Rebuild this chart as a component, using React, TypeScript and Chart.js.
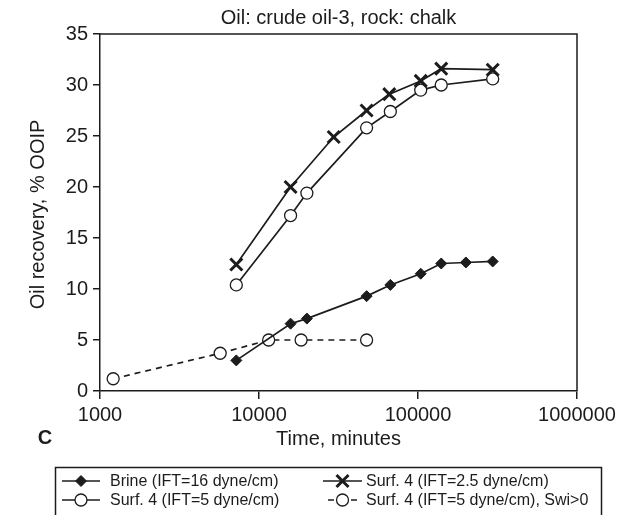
import React, { useEffect, useRef } from "react";
import { Chart, registerables } from "chart.js";
import { drawPoint } from "chart.js/helpers";

Chart.register(...registerables);

// Brine (IFT=16 dyne/cm)
const brineTime = [7200, 15800, 20000, 47500, 67000, 104000, 140000, 200000, 295000];
const brineRecovery = [3.0, 6.6, 7.1, 9.3, 10.4, 11.5, 12.5, 12.6, 12.7];

// Surf. 4 (IFT=2.5 dyne/cm)
const surfLowTime = [7200, 15800, 29500, 47500, 66000, 104000, 140000, 295000];
const surfLowRecovery = [12.4, 20.0, 24.9, 27.5, 29.1, 30.4, 31.6, 31.5];

// Surf. 4 (IFT=5 dyne/cm)
const surfTime = [7200, 15800, 20000, 47500, 67000, 104000, 140000, 295000];
const surfRecovery = [10.4, 17.2, 19.4, 25.8, 27.4, 29.5, 30.0, 30.6];

// Surf. 4 (IFT=5 dyne/cm), Swi>0
const swiTime = [1210, 5700, 11500, 18400, 47500];
const swiRecovery = [1.2, 3.7, 5.0, 5.0, 5.0];

const seriesLabels = [
  "Brine (IFT=16 dyne/cm)",
  "Surf. 4 (IFT=2.5 dyne/cm)",
  "Surf. 4 (IFT=5 dyne/cm)",
  "Surf. 4 (IFT=5 dyne/cm), Swi>0",
];

const xTicks = [1000, 10000, 100000, 1000000];
const yTicks = [0, 5, 10, 15, 20, 25, 30, 35];

const chartTitle = "Oil: crude oil-3, rock: chalk";
const xTitle = "Time, minutes";
const yTitle = "Oil recovery, % OOIP";
const panelLetter = "C";

const FONT = '"Liberation Sans", Arial, Helvetica, sans-serif';
const INK = "#1c1c1c";

const pts = (xs: number[], ys: number[]) => xs.map((x, i) => ({ x, y: ys[i] }));

// frame, titles, panel letter and the boxed legend
const decorations = {
  id: "decorations",
  afterDraw(chart: any) {
    const { ctx, chartArea: a } = chart;
    ctx.save();
    ctx.strokeStyle = INK;
    ctx.lineWidth = 1.5;
    ctx.beginPath();
    ctx.moveTo(a.left, a.top);
    ctx.lineTo(a.right, a.top);
    ctx.lineTo(a.right, a.bottom);
    ctx.stroke();

    ctx.fillStyle = INK;
    ctx.textAlign = "center";
    ctx.textBaseline = "middle";
    ctx.font = `20px ${FONT}`;
    const cx = (a.left + a.right) / 2;
    ctx.fillText(chartTitle, cx, 18);
    ctx.fillText(xTitle, cx, 439);

    ctx.save();
    ctx.translate(38, (a.top + a.bottom) / 2 + 2);
    ctx.rotate(-Math.PI / 2);
    ctx.fillText(yTitle, 0, 0);
    ctx.restore();

    ctx.font = `bold 20px ${FONT}`;
    ctx.fillText(panelLetter, 45, 438);

    // legend box (open at the bottom edge of the canvas)
    ctx.lineWidth = 1.5;
    ctx.strokeRect(55.5, 467.5, 546, 60);

    const slots = [
      { x0: 62, x1: 100, tx: 110, y: 481 },
      { x0: 323, x1: 362, tx: 366, y: 481 },
      { x0: 62, x1: 100, tx: 110, y: 500 },
      { x0: 323, x1: 362, tx: 366, y: 500 },
    ];
    ctx.font = `16px ${FONT}`;
    ctx.textAlign = "left";
    chart.data.datasets.forEach((ds: any, i: number) => {
      const s = slots[i];
      ctx.strokeStyle = ds.borderColor;
      ctx.lineWidth = ds.borderWidth;
      ctx.beginPath();
      if (ds.borderDash) {
        ctx.moveTo(s.x0 + 5, s.y);
        ctx.lineTo(s.x0 + 11, s.y);
        ctx.moveTo(s.x1 - 11, s.y);
        ctx.lineTo(s.x1 - 5, s.y);
      } else {
        ctx.moveTo(s.x0, s.y);
        ctx.lineTo(s.x1, s.y);
      }
      ctx.stroke();
      ctx.fillStyle = ds.pointBackgroundColor;
      ctx.strokeStyle = ds.pointBorderColor;
      ctx.lineWidth = ds.pointBorderWidth;
      drawPoint(
        ctx,
        { pointStyle: ds.pointStyle, radius: ds.pointRadius, rotation: 0, borderWidth: ds.pointBorderWidth },
        (s.x0 + s.x1) / 2,
        s.y
      );
      ctx.fillStyle = INK;
      ctx.fillText(seriesLabels[i], s.tx, s.y + 1);
    });
    ctx.restore();
  },
};

export default function App() {
  const ref = useRef<HTMLCanvasElement>(null);

  useEffect(() => {
    if (!ref.current) return;
    const line = { borderColor: INK, borderWidth: 1.7, showLine: true, fill: false, tension: 0 };
    const chart = new Chart(ref.current, {
      type: "scatter",
      data: {
        datasets: [
          {
            ...line,
            label: seriesLabels[0],
            data: pts(brineTime, brineRecovery),
            pointStyle: "rectRot",
            pointRadius: 5.5,
            pointBackgroundColor: INK,
            pointBorderColor: INK,
            pointBorderWidth: 1,
          },
          {
            ...line,
            label: seriesLabels[1],
            data: pts(surfLowTime, surfLowRecovery),
            pointStyle: "crossRot",
            pointRadius: 8.5,
            pointBackgroundColor: INK,
            pointBorderColor: INK,
            pointBorderWidth: 3,
          },
          {
            ...line,
            label: seriesLabels[2],
            data: pts(surfTime, surfRecovery),
            pointStyle: "circle",
            pointRadius: 6,
            pointBackgroundColor: "#ffffff",
            pointBorderColor: INK,
            pointBorderWidth: 1.3,
          },
          {
            ...line,
            label: seriesLabels[3],
            data: pts(swiTime, swiRecovery),
            borderDash: [6, 5],
            pointStyle: "circle",
            pointRadius: 6,
            pointBackgroundColor: "#ffffff",
            pointBorderColor: INK,
            pointBorderWidth: 1.3,
          },
        ],
      },
      options: {
        responsive: false,
        animation: false,
        layout: { padding: { top: 34, right: 52, left: 0, bottom: 0 } },
        plugins: { legend: { display: false }, title: { display: false }, tooltip: { enabled: false } },
        scales: {
          x: {
            type: "logarithmic",
            min: 1000,
            max: 1000000,
            afterBuildTicks: (s: any) => {
              s.ticks = xTicks.map((v) => ({ value: v }));
            },
            afterFit: (s: any) => {
              s.height = 124;
            },
            ticks: {
              callback: (v: any) => String(v),
              color: INK,
              font: { family: FONT, size: 20 },
              padding: 4,
              maxRotation: 0,
              autoSkip: false,
            },
            grid: { drawOnChartArea: false, drawTicks: true, tickLength: 8, color: INK, lineWidth: 1.5 },
            border: { display: true, color: INK, width: 1.5 },
          },
          y: {
            type: "linear",
            min: 0,
            max: 35,
            afterBuildTicks: (s: any) => {
              s.ticks = yTicks.map((v) => ({ value: v }));
            },
            afterFit: (s: any) => {
              s.width = 100;
            },
            ticks: {
              color: INK,
              font: { family: FONT, size: 20 },
              padding: 5,
            },
            grid: { drawOnChartArea: false, drawTicks: true, tickLength: 7, color: INK, lineWidth: 1.5 },
            border: { display: true, color: INK, width: 1.5 },
          },
        },
      },
      plugins: [decorations],
    });
    return () => chart.destroy();
  }, []);

  return (
    <div style={{ position: "absolute", left: 0, top: 0, width: 629, height: 515, background: "#fff" }}>
      <canvas ref={ref} width={629} height={515} />
    </div>
  );
}
